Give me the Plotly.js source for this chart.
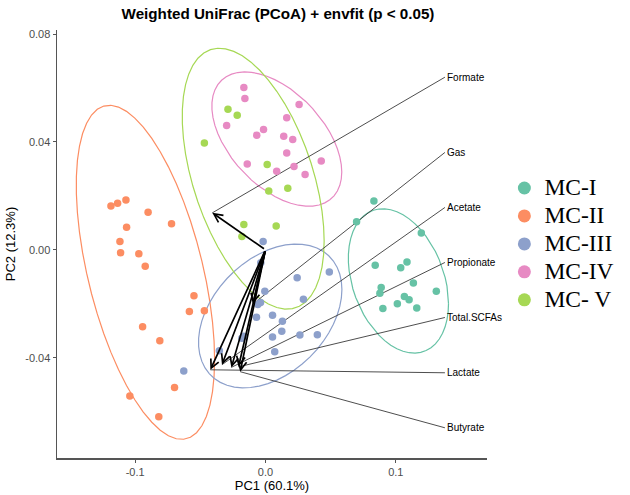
<!DOCTYPE html>
<html>
<head>
<meta charset="utf-8">
<script src="https://cdn.plot.ly/plotly-3.0.1.min.js"></script>
<style>html,body{margin:0;padding:0;background:#fff;}#chart{width:630px;height:495px;}</style>
</head>
<body>
<div id="chart"></div>
<script>
// ---- Data ----
const groups = ["MC-I", "MC-II", "MC-III", "MC-IV", "MC- V"];
const groupColors = ["#66C2A5", "#FC8D62", "#8DA0CB", "#E78AC3", "#A6D854"];

const mc1_x = [0.0832, 0.0699, 0.1196, 0.0842, 0.1038, 0.1086, 0.1135, 0.0888, 0.0878, 0.1311, 0.1066, 0.1102, 0.1012, 0.0901, 0.1161];
const mc1_y = [0.0181, 0.0104, 0.0062, -0.0057, -0.0067, -0.0045, -0.0123, -0.0140, -0.0161, -0.0154, -0.0173, -0.0185, -0.0200, -0.0218, -0.0216];

const mc2_x = [-0.1186, -0.1135, -0.1071, -0.0901, -0.1066, -0.0721, -0.1117, -0.1112, -0.0972, -0.0923, -0.0549, -0.0584, -0.0469, -0.0943, -0.0811, -0.0698, -0.1041, -0.0819];
const mc2_y = [0.0162, 0.0173, 0.0185, 0.0139, 0.0084, 0.0097, 0.0031, -0.0011, -0.0015, -0.0061, -0.0170, -0.0229, -0.0226, -0.0285, -0.0337, -0.0511, -0.0542, -0.0619];

const mc3_x = [-0.0018, -0.0036, 0.0243, 0.0490, -0.0005, 0.0291, -0.0059, -0.0038, -0.0069, 0.0054, 0.0130, 0.0125, 0.0054, 0.0264, 0.0398, -0.0181, -0.0168, 0.0071, -0.0354, -0.0627];
const mc3_y = [0.0031, -0.0048, -0.0104, -0.0082, -0.0154, -0.0183, -0.0203, -0.0195, -0.0250, -0.0243, -0.0265, -0.0302, -0.0323, -0.0316, -0.0315, -0.0328, -0.0321, -0.0378, -0.0374, -0.0449];

const mc4_x = [-0.0166, -0.0158, 0.0258, 0.0163, -0.0298, -0.0015, -0.0067, 0.0140, 0.0209, 0.0163, -0.0140, 0.0219, 0.0428, 0.0086, 0.0304];
const mc4_y = [0.0602, 0.0561, 0.0539, 0.0490, 0.0461, 0.0446, 0.0425, 0.0421, 0.0409, 0.0359, 0.0318, 0.0309, 0.0329, 0.0291, 0.0279];

const mc5_x = [-0.0288, -0.0217, -0.0469, 0.0013, 0.0025, 0.0171, -0.0166, 0.0082, -0.0181];
const mc5_y = [0.0521, 0.0499, 0.0396, 0.0316, 0.0218, 0.0228, 0.0094, 0.0088, 0.0049];

// envfit vectors (arrow tips) and label anchor positions
const vecNames = ["Formate", "Gas", "Acetate", "Propionate", "Total.SCFAs", "Lactate", "Butyrate"];
const vecX = [-0.0408, -0.0097, -0.0334, -0.0262, -0.0207, -0.0423, -0.0194];
const vecY = [0.0137, -0.0201, -0.0426, -0.0436, -0.0434, -0.0445, -0.0452];
const labelX = [0.1377, 0.1377, 0.1377, 0.1377, 0.1377, 0.1377, 0.1377];
const labelY = [0.0640, 0.0361, 0.0157, -0.0047, -0.0251, -0.0456, -0.0660];

const xTickVals = [-0.1, 0.0, 0.1];
const xTickText = ["-0.1", "0.0", "0.1"];
const yTickVals = [-0.04, 0.0, 0.04, 0.08];
const yTickText = ["-0.04", "0.00", "0.04", "0.08"];

const groupX = [mc1_x, mc2_x, mc3_x, mc4_x, mc5_x];
const groupY = [mc1_y, mc2_y, mc3_y, mc4_y, mc5_y];

// ---- stat_ellipse (type "t", level 0.95) computed from the points ----
function covTrob(xs, ys) {
  const n = xs.length, p = 2, nu = 5, tol = 0.01;
  let loc = [xs.reduce((a, b) => a + b, 0) / n, ys.reduce((a, b) => a + b, 0) / n];
  let w = new Array(n).fill(1);
  let X = [];
  for (let it = 0; it < 25; it++) {
    const w0 = w.slice();
    X = xs.map((v, i) => [v - loc[0], ys[i] - loc[1]]);
    const sw = w.reduce((a, b) => a + b, 0);
    let a = 0, b = 0, c = 0;
    for (let i = 0; i < n; i++) {
      const f = w[i] / sw;
      a += f * X[i][0] * X[i][0];
      b += f * X[i][0] * X[i][1];
      c += f * X[i][1] * X[i][1];
    }
    const det = a * c - b * b;
    w = X.map(r => {
      const Q = (c * r[0] * r[0] - 2 * b * r[0] * r[1] + a * r[1] * r[1]) / det;
      return (nu + p) / (nu + Q);
    });
    const sw2 = w.reduce((s, v) => s + v, 0);
    loc = [xs.reduce((s, v, i) => s + w[i] * v, 0) / sw2, ys.reduce((s, v, i) => s + w[i] * v, 0) / sw2];
    if (w.every((v, i) => Math.abs(v - w0[i]) < tol)) break;
  }
  let a = 0, b = 0, c = 0;
  for (let i = 0; i < n; i++) {
    a += w[i] * X[i][0] * X[i][0];
    b += w[i] * X[i][0] * X[i][1];
    c += w[i] * X[i][1] * X[i][1];
  }
  return { loc: loc, cov: [a / n, b / n, c / n] };
}
function ellipse(xs, ys, level) {
  const n = xs.length;
  const r = covTrob(xs, ys);
  const d = n - 1;
  const q = (d / 2) * (Math.pow(1 - level, -2 / d) - 1);
  const radius = Math.sqrt(2 * q);
  const r11 = Math.sqrt(r.cov[0]);
  const r12 = r.cov[1] / r11;
  const r22 = Math.sqrt(r.cov[2] - r12 * r12);
  const ex = [], ey = [];
  const seg = 51;
  for (let k = 0; k <= seg; k++) {
    const t = k * 2 * Math.PI / seg;
    const u = Math.cos(t), v = Math.sin(t);
    ex.push(r.loc[0] + radius * (u * r11));
    ey.push(r.loc[1] + radius * (u * r12 + v * r22));
  }
  return { x: ex, y: ey };
}

const traces = [];
// ellipses
groups.forEach((g, i) => {
  const e = ellipse(groupX[i], groupY[i], 0.95);
  traces.push({ type: "scatter", mode: "lines", x: e.x, y: e.y, line: { color: groupColors[i], width: 1.2 }, showlegend: false, hoverinfo: "skip" });
});
// label connector lines
vecNames.forEach((nm, i) => {
  traces.push({ type: "scatter", mode: "lines", x: [vecX[i], labelX[i]], y: [vecY[i], labelY[i]], line: { color: "#3a3a3a", width: 0.9 }, showlegend: false, hoverinfo: "skip" });
});
// points
groups.forEach((g, i) => {
  traces.push({ type: "scatter", mode: "markers", x: groupX[i], y: groupY[i], name: g, marker: { color: groupColors[i], size: 7.5 }, showlegend: false });
});
// legend entries
groups.forEach((g, i) => {
  traces.push({ type: "scatter", mode: "markers", x: [null], y: [null], name: '<span style="font-size:23.5px">' + g + '</span>', marker: { color: groupColors[i], size: 13 }, showlegend: true });
});

const annotations = [];
vecNames.forEach((nm, i) => {
  annotations.push({ x: vecX[i], y: vecY[i], ax: 0, ay: 0, xref: "x", yref: "y", axref: "x", ayref: "y", text: "", showarrow: true, arrowhead: 5, arrowsize: 1, arrowwidth: 1.7, arrowcolor: "#000" });
  annotations.push({ x: labelX[i], y: labelY[i], xref: "x", yref: "y", text: nm, showarrow: false, xanchor: "left", yanchor: "middle", xshift: 0, font: { family: "Liberation Sans, Arial", size: 10, color: "#000" } });
});

const layout = {
  width: 630, height: 495,
  margin: { l: 57, r: 142, t: 30, b: 37 },
  paper_bgcolor: "#fff", plot_bgcolor: "#fff",
  title: { text: "<b>Weighted UniFrac (PCoA) + envfit (p < 0.05)</b>", xref: "paper", x: 0.514, xanchor: "center", yref: "container", y: 0.972, yanchor: "middle", font: { family: "Liberation Sans, Arial", size: 15.2, color: "#000" } },
  xaxis: {
    range: [-0.160, 0.170], showgrid: false, zeroline: false,
    showline: true, linecolor: "#555", linewidth: 1.5,
    ticks: "outside", ticklen: 3, tickcolor: "#555", tickwidth: 1,
    tickvals: xTickVals, ticktext: xTickText,
    tickfont: { family: "Liberation Sans, Arial", size: 11, color: "#4d4d4d" },
    title: { text: "PC1 (60.1%)", standoff: 3, font: { family: "Liberation Sans, Arial", size: 13, color: "#000" } }
  },
  yaxis: {
    range: [-0.0772, 0.0815], showgrid: false, zeroline: false,
    showline: true, linecolor: "#555", linewidth: 1.5,
    ticks: "outside", ticklen: 3, tickcolor: "#555", tickwidth: 1,
    tickvals: yTickVals, ticktext: yTickText,
    tickfont: { family: "Liberation Sans, Arial", size: 11, color: "#4d4d4d" },
    title: { text: "PC2 (12.3%)", standoff: 6, font: { family: "Liberation Sans, Arial", size: 13, color: "#000" } }
  },
  showlegend: true,
  legend: {
    x: 1.038, xanchor: "left", y: 0.5, yanchor: "middle",
    font: { family: "Liberation Serif, Times New Roman, serif", size: 19.2, color: "#000" },
    tracegroupgap: 0, itemsizing: "trace", bgcolor: "rgba(0,0,0,0)"
  },
  annotations: annotations
};

Plotly.newPlot("chart", traces, layout, { displayModeBar: false, staticPlot: true });
</script>
</body>
</html>
